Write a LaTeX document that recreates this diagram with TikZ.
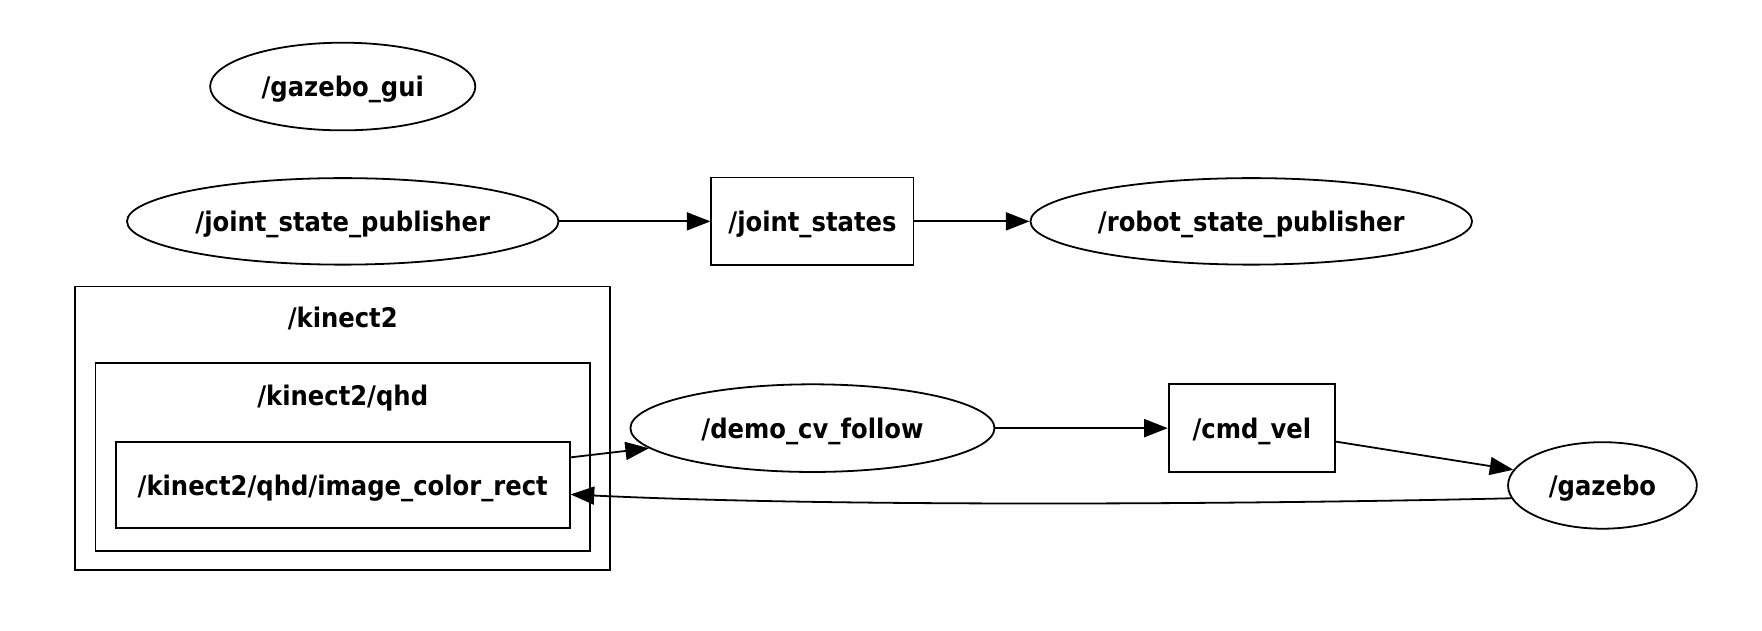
\documentclass[tikz,border=0pt]{standalone}
\usepackage{fontspec}
\setmainfont{DejaVu Sans Condensed}[BoldFont={DejaVu Sans Condensed Bold}]
\usetikzlibrary{shapes.geometric,arrows.meta}
\tikzset{
  every node/.style={font=\fontsize{24}{28}\selectfont\bfseries, text depth=0pt},
  nodeell/.style={draw, ellipse, line width=1.6pt, inner sep=0pt},
  topicbox/.style={draw, rectangle, line width=1.6pt, inner sep=0pt},
  cluster/.style={draw, line width=1.6pt},
  edge/.style={line width=1.6pt, -{Triangle[length=21pt,width=16pt]}}
}
\begin{document}
\begin{tikzpicture}[x=1pt,y=-1pt]
\useasboundingbox (0,0) rectangle (1568,561);
% clusters
\draw[cluster] (67,255) rectangle (543,507);
\node (k2lbl) at (305,282) {/kinect2};
\draw[cluster] (85,323) rectangle (525,490);
\node (qhdlbl) at (305,352) {/kinect2/qhd};
% nodes
\node[nodeell, minimum width=236pt, minimum height=78pt] (gui) at (305,77) {/gazebo\_gui};
\node[nodeell, minimum width=384pt, minimum height=77pt] (jsp) at (305,197) {/joint\_state\_publisher};
\node[topicbox, minimum width=180pt, minimum height=78pt] (js) at (723,197) {/joint\_states};
\node[nodeell, minimum width=393pt, minimum height=77pt] (rsp) at (1113.5,197) {/robot\_state\_publisher};
\node[topicbox, minimum width=404pt, minimum height=77pt] (icr) at (305,431.5) {/kinect2/qhd/image\_color\_rect};
\node[nodeell, minimum width=324pt, minimum height=78pt] (demo) at (723,381) {/demo\_cv\_follow};
\node[topicbox, minimum width=148pt, minimum height=78pt] (cmd) at (1114,381) {/cmd\_vel};
\node[nodeell, minimum width=168pt, minimum height=77pt] (gz) at (1426,432) {/gazebo};
% edges
\draw[edge] (jsp.east) -- (js.west);
\draw[edge] (js.east) -- (rsp.west);
\draw[edge] ([yshift=24.5pt]icr.east) -- (demo.187);
\draw[edge] (demo.east) -- (cmd.west);
\draw[edge] ([yshift=-12pt]cmd.east) -- (gz.170);
\draw[edge] (gz.188) .. controls (1150,448) and (760,452) .. ([yshift=-8.5pt]icr.east);
\end{tikzpicture}
\end{document}
